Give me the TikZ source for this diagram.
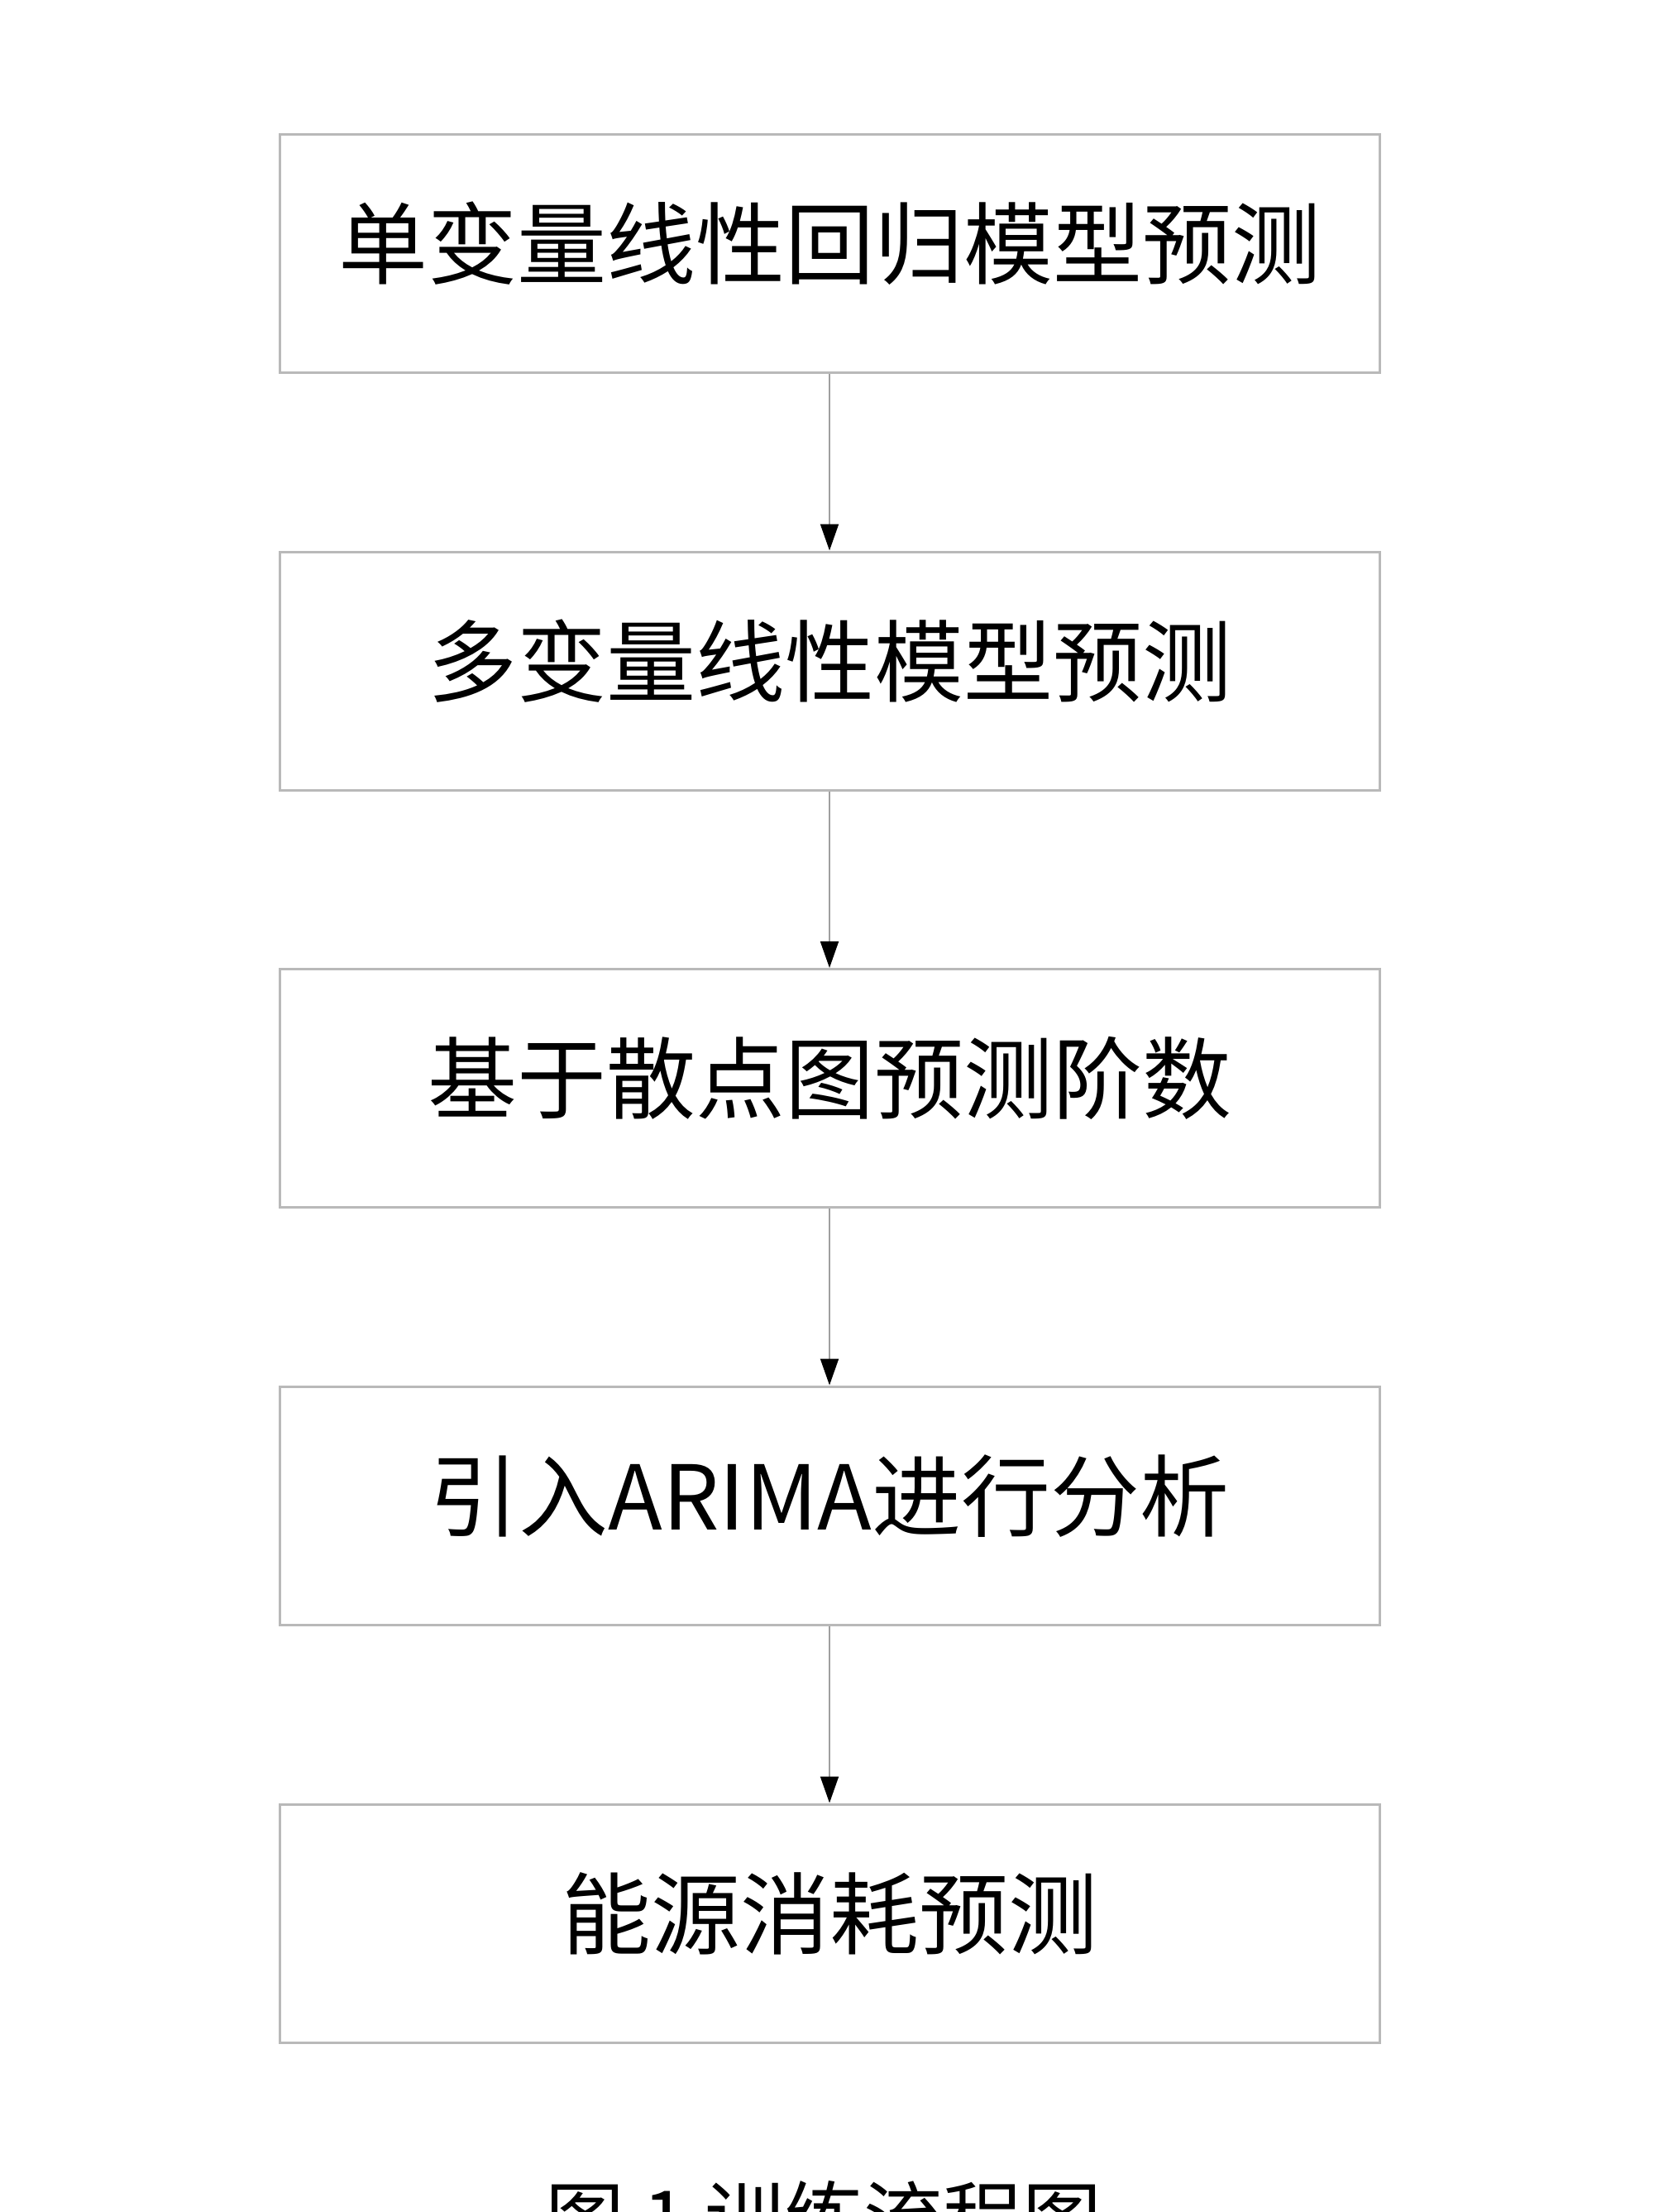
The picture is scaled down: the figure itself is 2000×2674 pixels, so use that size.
\documentclass[tikz,border=0pt]{standalone}
\usepackage{fontspec}
\newfontfamily\cjk{Noto Sans CJK SC}
\usetikzlibrary{arrows.meta}
\begin{document}
\begin{tikzpicture}[x=0.25pt,y=-0.25pt,
  box/.style={draw=gray!55, line width=0.75pt, minimum width=332.5pt, minimum height=72pt,
    inner sep=0pt, text height=24pt, text depth=9.5pt, font=\cjk\fontsize{27}{27}\selectfont},
  conn/.style={draw=gray!75, line width=0.5pt, -{Triangle[length=8pt,width=5.5pt,black]}},
  captxt/.style={inner sep=0pt, anchor=north, font=\cjk\fontsize{24}{24}\selectfont}]
\useasboundingbox (0,0) rectangle (2000,2674);
\clip (0,0) rectangle (2000,2674);
\fill[white] (0,0) rectangle (2000,2674);
\node[box] (b1) at (1003,307) {单变量线性回归模型预测};
\node[box] (b2) at (1003,811) {多变量线性模型预测};
\node[box] (b3) at (1003,1315.5) {基于散点图预测阶数};
\node[box] (b4) at (1003,1820) {引入ARIMA进行分析};
\node[box] (b5) at (1003,2325) {能源消耗预测};
\draw[conn] (b1.south) -- (b2.north);
\draw[conn] (b2.south) -- (b3.north);
\draw[conn] (b3.south) -- (b4.north);
\draw[conn] (b4.south) -- (b5.north);
\node[captxt] (cap) at (996,2636) {图 1 训练流程图};
\end{tikzpicture}
\end{document}
